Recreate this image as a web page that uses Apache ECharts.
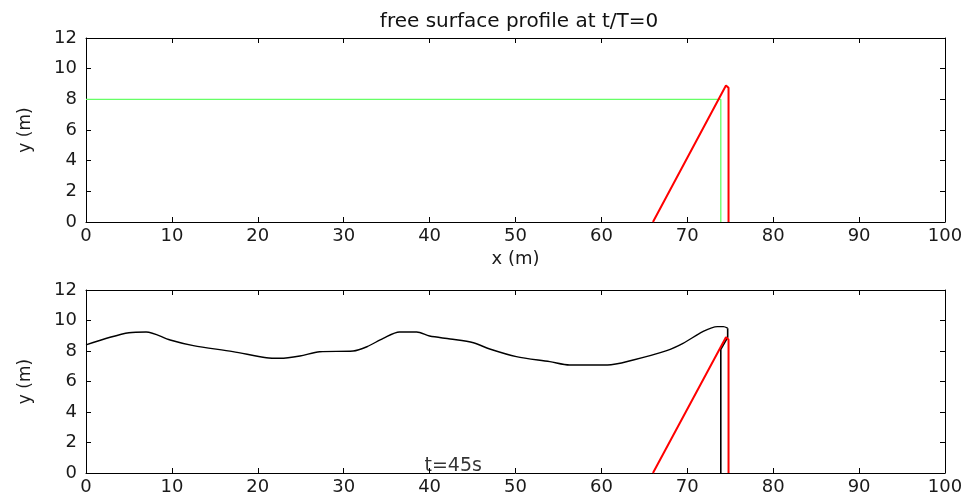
<!DOCTYPE html>
<html>
<head>
<meta charset="utf-8">
<script src="https://cdn.jsdelivr.net/npm/echarts@6/dist/echarts.min.js"></script>
<style>
  html, body { margin: 0; padding: 0; background: #fff; }
  #chart { width: 970px; height: 496px; }
</style>
</head>
<body>
<div id="chart"></div>
<script>
  // free surface profile, t/T=0 (top) and t=45s (bottom)
  const xTicks = [0, 10, 20, 30, 40, 50, 60, 70, 80, 90, 100];
  const yTicks = [0, 2, 4, 6, 8, 10, 12];

  // initial still water surface (green)
  const surfX0 = [0, 73.9, 73.9];
  const surfY0 = [8, 8, 0];

  // wall / slope outline (red), same in both panels
  const wallX = [66.0, 74.5, 74.8, 74.8];
  const wallY = [0, 8.9, 8.75, 0];

  // surface at t=45s (black), smooth part
  const surfX45 = [0, 2.8, 5, 7, 9.8, 12.5, 17.1, 21, 22.6, 24.9, 27.2, 31.1, 32.7, 34.6, 36.5, 38.5, 40, 42.4, 45.1, 47, 50.1, 54, 56.3, 60.7, 63.7, 67.6, 69.5, 71.8, 73.5, 74.2, 74.7];
  const surfY45 = [8.4, 8.9, 9.2, 9.25, 8.72, 8.35, 7.96, 7.56, 7.52, 7.67, 7.95, 8.0, 8.28, 8.83, 9.25, 9.25, 8.98, 8.79, 8.54, 8.13, 7.63, 7.3, 7.08, 7.08, 7.41, 8.02, 8.5, 9.27, 9.6, 9.6, 9.5];
  // surface at t=45s, drop at the wall
  const tailX45 = [74.7, 74.7, 73.9, 73.9];
  const tailY45 = [9.5, 8.9, 8.1, 0];

  const timeLabel = 't=45s';
  const timeLabelPos = [39.4, 0];

  function pairs(xs, ys) {
    return xs.map((x, i) => [x, ys[i]]);
  }

  const font = 'DejaVu Sans';
  const tickColor = '#1a1a1a';

  function xAxisPair(gridIndex, withName) {
    const base = {
      gridIndex: gridIndex,
      type: 'value',
      min: xTicks[0],
      max: xTicks[xTicks.length - 1],
      interval: 10,
      axisLine: { show: true, onZero: false, lineStyle: { color: '#000', width: 1 } },
      axisTick: { show: true, inside: true, length: 5, lineStyle: { color: '#000' } },
      splitLine: { show: false }
    };
    return [
      Object.assign({}, base, {
        position: 'bottom',
        name: withName ? 'x (m)' : '',
        nameLocation: 'middle',
        nameGap: 28,
        nameTextStyle: { fontFamily: font, fontSize: 18, color: tickColor },
        axisLabel: { fontFamily: font, fontSize: 18, color: tickColor, margin: 5 }
      }),
      Object.assign({}, base, {
        position: 'top',
        axisLabel: { show: false }
      })
    ];
  }

  function yAxisPair(gridIndex) {
    const base = {
      gridIndex: gridIndex,
      type: 'value',
      min: yTicks[0],
      max: yTicks[yTicks.length - 1],
      interval: 2,
      axisLine: { show: true, onZero: false, lineStyle: { color: '#000', width: 1 } },
      axisTick: { show: true, inside: true, length: 5, lineStyle: { color: '#000' } },
      splitLine: { show: false }
    };
    return [
      Object.assign({}, base, {
        position: 'left',
        name: 'y (m)',
        nameLocation: 'middle',
        nameGap: 52,
        nameTextStyle: { fontFamily: font, fontSize: 17, color: tickColor },
        axisLabel: { fontFamily: font, fontSize: 18, color: tickColor, margin: 9 }
      }),
      Object.assign({}, base, {
        position: 'right',
        axisLabel: { show: false }
      })
    ];
  }

  const chart = echarts.init(document.getElementById('chart'));

  const lineBase = {
    type: 'line',
    symbol: 'none',
    animation: false,
    silent: true
  };

  chart.setOption({
    backgroundColor: '#fff',
    animation: false,
    title: {
      text: 'free surface profile at t/T=0',
      left: 514,
      textAlign: 'center',
      top: 7,
      textStyle: { fontFamily: font, fontSize: 20, fontWeight: 'normal', color: '#111' }
    },
    grid: [
      { left: 86, right: 25, top: 38, height: 184 },
      { left: 86, right: 25, top: 290, height: 183 }
    ],
    xAxis: xAxisPair(0, true).concat(xAxisPair(1, false)),
    yAxis: yAxisPair(0).concat(yAxisPair(1)),
    series: [
      Object.assign({}, lineBase, {
        name: 'surface t0',
        xAxisIndex: 0, yAxisIndex: 0,
        data: pairs(surfX0, surfY0),
        lineStyle: { color: '#66ff66', width: 1.3 }
      }),
      Object.assign({}, lineBase, {
        name: 'wall top',
        xAxisIndex: 0, yAxisIndex: 0,
        data: pairs(wallX, wallY),
        lineStyle: { color: '#ff0000', width: 2 }
      }),
      Object.assign({}, lineBase, {
        name: 'surface t45',
        xAxisIndex: 2, yAxisIndex: 2,
        smooth: 0.3,
        data: pairs(surfX45, surfY45),
        lineStyle: { color: '#000', width: 1.4 }
      }),
      Object.assign({}, lineBase, {
        name: 'surface t45 tail',
        xAxisIndex: 2, yAxisIndex: 2,
        data: pairs(tailX45, tailY45),
        lineStyle: { color: '#000', width: 1.6 }
      }),
      Object.assign({}, lineBase, {
        name: 'wall bottom',
        xAxisIndex: 2, yAxisIndex: 2,
        data: pairs(wallX, wallY),
        lineStyle: { color: '#ff0000', width: 2 }
      }),
      {
        type: 'scatter',
        name: 'time',
        xAxisIndex: 2, yAxisIndex: 2,
        symbolSize: 0,
        silent: true,
        data: [timeLabelPos],
        label: {
          show: true,
          position: [0, 3],
          align: 'left',
          verticalAlign: 'bottom',
          formatter: timeLabel,
          fontFamily: font,
          fontSize: 19,
          color: '#000'
        }
      }
    ]
  });
</script>
</body>
</html>
